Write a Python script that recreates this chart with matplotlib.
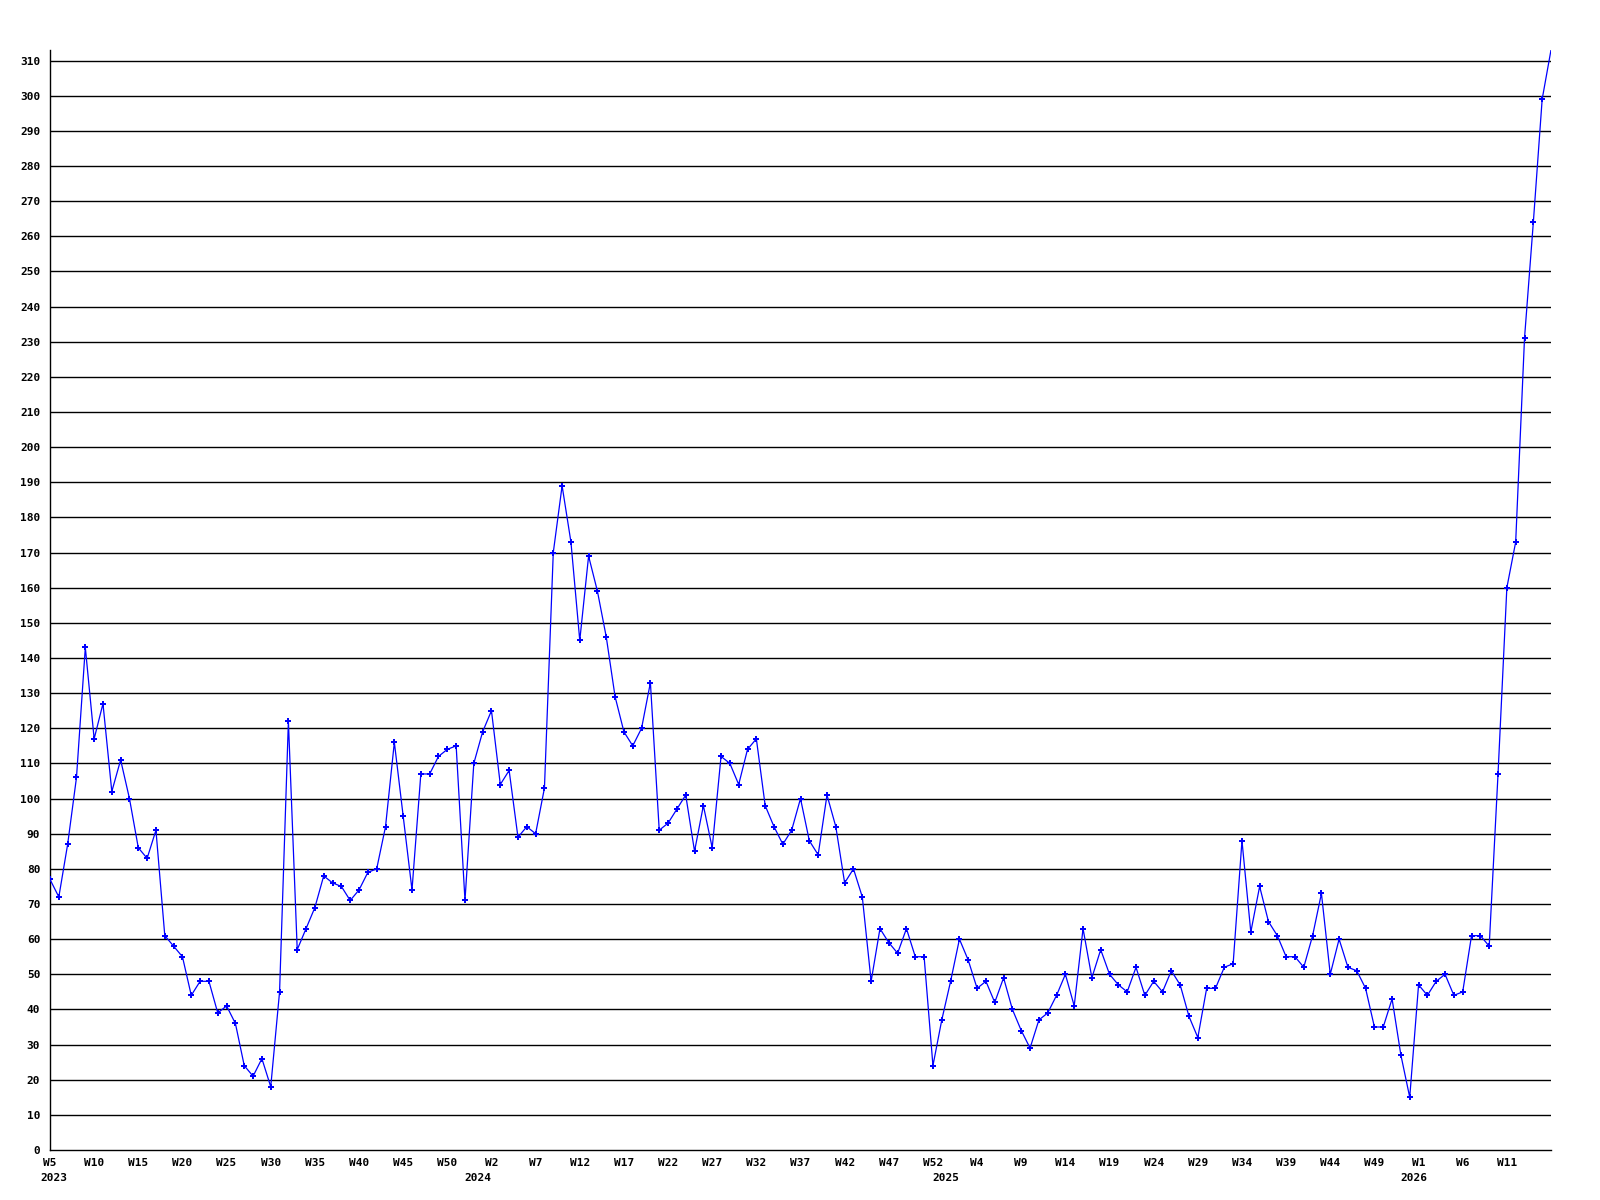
import matplotlib
matplotlib.use("Agg")
import matplotlib.pyplot as plt
from matplotlib import transforms

# weekly counts, 2023 W5 .. 2026 W16
values = [
    77, 72, 87, 106, 143, 117, 127, 102, 111, 100,
    86, 83, 91, 61, 58, 55, 44, 48, 48, 39,
    41, 36, 24, 21, 26, 18, 45, 122, 57, 63,
    69, 78, 76, 75, 71, 74, 79, 80, 92, 116,
    95, 74, 107, 107, 112, 114, 115, 71, 110, 119,
    125, 104, 108, 89, 92, 90, 103, 170, 189, 173,
    145, 169, 159, 146, 129, 119, 115, 120, 133, 91,
    93, 97, 101, 85, 98, 86, 112, 110, 104, 114,
    117, 98, 92, 87, 91, 100, 88, 84, 101, 92,
    76, 80, 72, 48, 63, 59, 56, 63, 55, 55,
    24, 37, 48, 60, 54, 46, 48, 42, 49, 40,
    34, 29, 37, 39, 44, 50, 41, 63, 49, 57,
    50, 47, 45, 52, 44, 48, 45, 51, 47, 38,
    32, 46, 46, 52, 53, 88, 62, 75, 65, 61,
    55, 55, 52, 61, 73, 50, 60, 52, 51, 46,
    35, 35, 43, 27, 15, 47, 44, 48, 50, 44,
    45, 61, 61, 58, 107, 160, 173, 231, 264, 299,
    313,
]

years = [2023, 2024, 2025, 2026]
first_week = [5, 1, 1, 1]
last_week = [53, 53, 53, 16]

weeks = []
for y, a, b in zip(years, first_week, last_week):
    for w in range(a, b + 1):
        weeks.append((y, w))

x = list(range(len(values)))
# the last (still running) week gets no label
tick_pos = list(range(0, len(values) - 1, 5))
tick_labels = ["W%d" % weeks[i][1] for i in tick_pos]

font = dict(family="DejaVu Sans Mono", weight="bold", size=8)

fig = plt.figure(figsize=(16, 12), dpi=100)
ax = fig.add_axes([50 / 1600, 50 / 1200, 1501 / 1600, 1100 / 1200])

for v in range(10, 320, 10):
    ax.axhline(v, color="black", linewidth=1.0, zorder=1)

ax.plot(x, values, color="#0000ff", linewidth=0.9, marker="P",
        markersize=4.5, markeredgewidth=0, zorder=3,
        markevery=list(range(len(values) - 1)))

ax.set_xlim(0, len(values) - 1)
ax.set_ylim(0, max(values))
ax.set_yticks(range(0, 320, 10))
ax.set_yticklabels([str(v) for v in range(0, 320, 10)], fontdict=font)
ax.set_xticks(tick_pos)
ax.set_xticklabels(tick_labels, fontdict=font)
ax.tick_params(axis="both", length=0)
ax.tick_params(axis="y", pad=7)
ax.tick_params(axis="x", pad=5.5)

for side in ("top", "right"):
    ax.spines[side].set_visible(False)
for side in ("left", "bottom"):
    ax.spines[side].set_color("black")
    ax.spines[side].set_linewidth(1.0)

# year labels under the first week of every year
trans = transforms.blended_transform_factory(ax.transData, ax.transAxes)
for y in years:
    idx = weeks.index((y, first_week[years.index(y)]))
    if idx == 0:
        t = transforms.offset_copy(trans, fig=fig, x=-10, y=-23, units="dots")
        ax.text(idx, 0, str(y), transform=t, ha="left", va="top", fontdict=font)
    else:
        t = transforms.offset_copy(trans, fig=fig, x=0, y=-23, units="dots")
        ax.text(idx - 0.5, 0, str(y), transform=t, ha="center", va="top", fontdict=font)

fig.savefig("out.png", dpi=100)
